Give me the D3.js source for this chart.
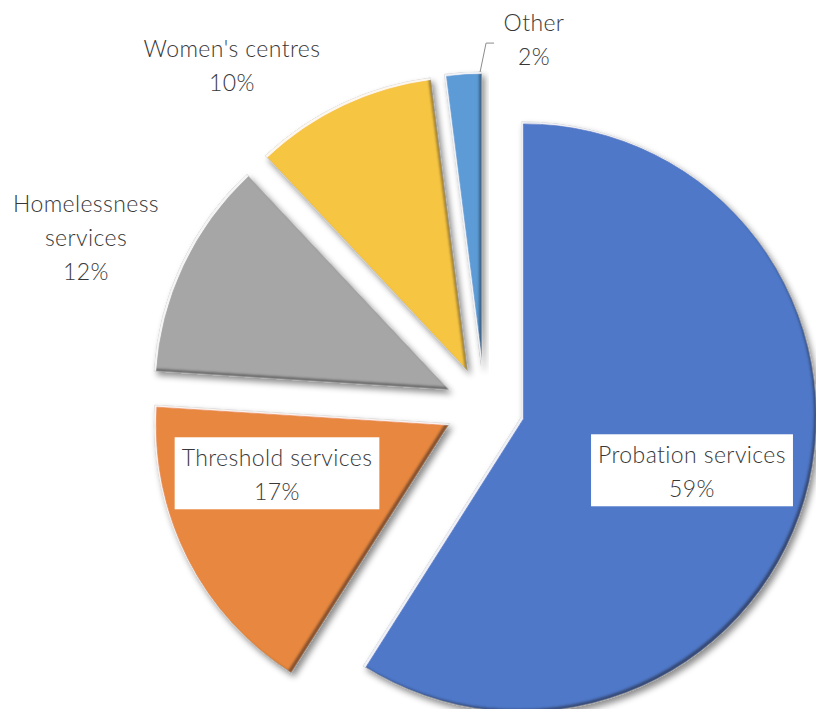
<!DOCTYPE html>
<html>
<head>
<meta charset="utf-8">
<script src="https://cdn.jsdelivr.net/npm/d3@7"></script>
<style>
  html, body { margin: 0; padding: 0; background: #fff; }
  svg { display: block; }
  .lbl { font-family: Lato, "Open Sans", sans-serif; font-weight: 300; fill: #383838; letter-spacing: 0.4px; }
</style>
</head>
<body>
<svg id="chart" width="816" height="709"></svg>
<script>
// Share of referrals by service type (per cent)
const categories = ["Probation services", "Threshold services", "Homelessness services", "Women's centres", "Other"];
const shares = [59, 17, 12, 10, 2];
const labelLines = [
  ["Probation services", "59%"],
  ["Threshold services", "17%"],
  ["Homelessness", "services", "12%"],
  ["Women's centres", "10%"],
  ["Other", "2%"]
];

// Presentation
const sliceColors = ["#4f78c8", "#e8883f", "#a6a6a6", "#f6c543", "#5b9bd5"];
const boxed = [true, true, false, false, false];
const labelAnchor = [[692, 472], [277, 475], [86, 238], [232, 66], [534, 40]];
const W = 816, H = 709;
const cx = 484, cy = 406, R = 295, explode = 39;
const fontSize = 23, lineGap = 34;

const svg = d3.select("#chart");
const defs = svg.append("defs");

// Bevel + drop-shadow effect for the slices
const f = defs.append("filter").attr("id", "bevel")
  .attr("x", "-20%").attr("y", "-20%").attr("width", "140%").attr("height", "140%");
f.append("feGaussianBlur").attr("in", "SourceAlpha").attr("stdDeviation", 3).attr("result", "sb");
f.append("feOffset").attr("in", "sb").attr("dx", 3).attr("dy", 4).attr("result", "so");
f.append("feFlood").attr("flood-color", "#000").attr("flood-opacity", 0.45);
f.append("feComposite").attr("in2", "so").attr("operator", "in").attr("result", "shadow");

f.append("feOffset").attr("in", "SourceAlpha").attr("dx", -3).attr("dy", -3).attr("result", "ul");
f.append("feComposite").attr("in", "SourceAlpha").attr("in2", "ul").attr("operator", "out").attr("result", "br");
f.append("feGaussianBlur").attr("in", "br").attr("stdDeviation", 1).attr("result", "brb");
f.append("feComposite").attr("in", "brb").attr("in2", "SourceAlpha").attr("operator", "in").attr("result", "brc");
f.append("feFlood").attr("flood-color", "#2a2a2a").attr("flood-opacity", 0.75);
f.append("feComposite").attr("in2", "brc").attr("operator", "in").attr("result", "dark");

f.append("feOffset").attr("in", "SourceAlpha").attr("dx", 2).attr("dy", 2).attr("result", "dr");
f.append("feComposite").attr("in", "SourceAlpha").attr("in2", "dr").attr("operator", "out").attr("result", "tl");
f.append("feGaussianBlur").attr("in", "tl").attr("stdDeviation", 0.7).attr("result", "tlb");
f.append("feComposite").attr("in", "tlb").attr("in2", "SourceAlpha").attr("operator", "in").attr("result", "tlc");
f.append("feFlood").attr("flood-color", "#ffffff").attr("flood-opacity", 0.85);
f.append("feComposite").attr("in2", "tlc").attr("operator", "in").attr("result", "light");

const m = f.append("feMerge");
["shadow", "SourceGraphic", "dark", "light"].forEach(k => m.append("feMergeNode").attr("in", k));

const data = categories.map((c, i) => ({ name: c, value: shares[i], i }));
const pie = d3.pie().sort(null).value(d => d.value).startAngle(0).endAngle(2 * Math.PI);
const arcs = pie(data);
const arc = d3.arc().innerRadius(0).outerRadius(R);

const g = svg.append("g").attr("transform", `translate(${cx},${cy})`);
g.selectAll("path.slice")
  .data(arcs)
  .join("path")
  .attr("class", "slice")
  .attr("transform", d => {
    const mid = (d.startAngle + d.endAngle) / 2;
    return `translate(${explode * Math.sin(mid)},${-explode * Math.cos(mid)})`;
  })
  .attr("d", arc)
  .attr("fill", d => sliceColors[d.data.i])
  .attr("stroke", "#bdbdbd")
  .attr("stroke-width", 0.8)
  .attr("filter", "url(#bevel)");

// Leader line for the small slice
const other = arcs[4];
const oMid = (other.startAngle + other.endAngle) / 2;
const ox = cx + explode * Math.sin(oMid), oy = cy - explode * Math.cos(oMid);
const tipX = ox + R * Math.sin(other.endAngle - 0.005), tipY = oy - R * Math.cos(other.endAngle - 0.005);
svg.append("path")
  .attr("d", `M${tipX},${tipY}L${tipX + 6},${tipY - 29}L${tipX + 14},${tipY - 29}`)
  .attr("fill", "none").attr("stroke", "#8c8c8c").attr("stroke-width", 1);

// Labels
data.forEach((d, i) => {
  const [lx, ly] = labelAnchor[i];
  const lines = labelLines[i];
  const top = ly - (lines.length - 1) * lineGap / 2;
  const lg = svg.append("g");
  const t = lg.append("text").attr("class", "lbl")
    .attr("text-anchor", "middle").attr("font-size", fontSize);
  lines.forEach((s, k) => {
    t.append("tspan").attr("x", lx).attr("y", top + k * lineGap + fontSize * 0.36).text(s);
  });
  if (boxed[i]) {
    const bb = t.node().getBBox();
    lg.insert("rect", "text")
      .attr("x", bb.x - 7).attr("y", bb.y - 6)
      .attr("width", bb.width + 14).attr("height", bb.height + 10)
      .attr("fill", "#fff");
  }
});
</script>
</body>
</html>
